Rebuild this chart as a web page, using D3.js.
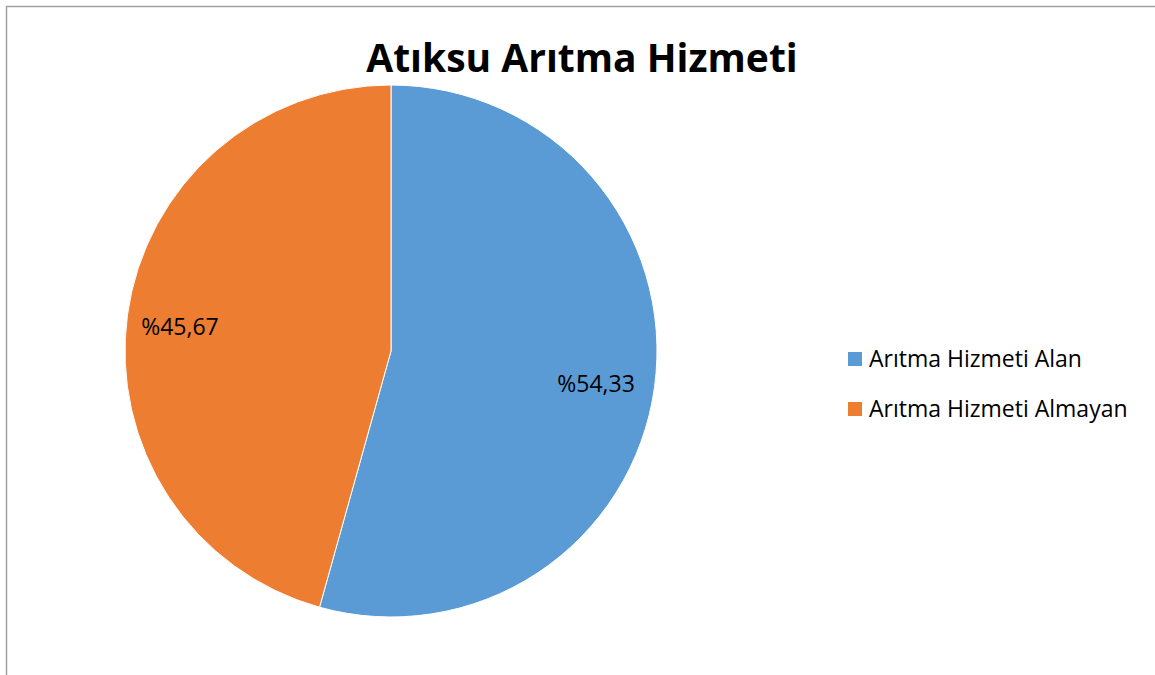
<!DOCTYPE html>
<html>
<head>
<meta charset="utf-8">
<script src="https://cdn.jsdelivr.net/npm/d3@7"></script>
<style>
  body { margin: 0; background: #fff; }
  svg { display: block; font-family: "Open Sans", sans-serif; }
</style>
</head>
<body>
<div id="chart"></div>
<script>
const categories = ["Arıtma Hizmeti Alan", "Arıtma Hizmeti Almayan"];
const values = [54.33, 45.67];
const labels = ["%54,33", "%45,67"];
const colors = ["#5b9bd5", "#ed7d31"];

const W = 1155, H = 675;
const cx = 391, cy = 351, r = 266;

const svg = d3.select("#chart")
  .append("svg")
  .attr("width", W)
  .attr("height", H);

// chart border (only top and left are visible in the frame)
svg.append("path")
  .attr("d", `M6.5,${H} V6.5 H${W}`)
  .attr("fill", "none")
  .attr("stroke", "#a0a0a0")
  .attr("stroke-width", 1.5);

svg.append("text")
  .attr("x", 582)
  .attr("y", 72)
  .attr("text-anchor", "middle")
  .style("font-size", "39px")
  .style("font-weight", "bold")
  .text("Atıksu Arıtma Hizmeti");

const pie = d3.pie().sort(null).value(d => d)(values);
const arc = d3.arc().innerRadius(0).outerRadius(r);
const labelArc = d3.arc().innerRadius(210).outerRadius(210);

const g = svg.append("g").attr("transform", `translate(${cx},${cy})`);

g.selectAll("path.slice")
  .data(pie)
  .enter()
  .append("path")
  .attr("class", "slice")
  .attr("d", arc)
  .attr("fill", (d, i) => colors[i])
  .attr("stroke", "#fff")
  .attr("stroke-width", 1);

g.selectAll("text.lbl")
  .data(pie)
  .enter()
  .append("text")
  .attr("class", "lbl")
  .attr("transform", d => {
    const c = labelArc.centroid(d);
    return `translate(${c[0] - 3},${c[1] + 4})`;
  })
  .attr("text-anchor", "middle")
  .attr("dy", "0.35em")
  .style("font-size", "23px")
  .text((d, i) => labels[i]);

const legend = svg.append("g").attr("transform", "translate(848,352)");
const rows = legend.selectAll("g")
  .data(categories)
  .enter()
  .append("g")
  .attr("transform", (d, i) => `translate(0,${i * 50})`);

rows.append("rect")
  .attr("width", 14)
  .attr("height", 14)
  .attr("fill", (d, i) => colors[i]);

rows.append("text")
  .attr("x", 21)
  .attr("y", 7)
  .attr("dy", "0.35em")
  .style("font-size", "23px")
  .text(d => d);
</script>
</body>
</html>
